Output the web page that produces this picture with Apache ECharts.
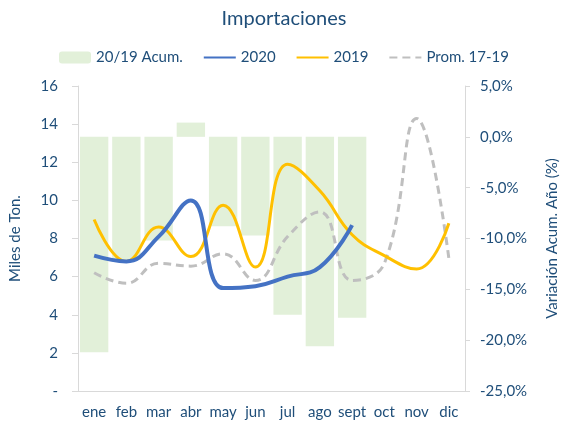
<!DOCTYPE html>
<html>
<head>
<meta charset="utf-8">
<script src="https://cdn.jsdelivr.net/npm/echarts@6/dist/echarts.min.js"></script>
<style>
  html, body { margin: 0; padding: 0; background: #fff; }
  #chart { width: 568px; height: 428px; }
</style>
</head>
<body>
<div id="chart"></div>
<script>
// datos
const meses = ['ene', 'feb', 'mar', 'abr', 'may', 'jun', 'jul', 'ago', 'sept', 'oct', 'nov', 'dic'];
const acum2019 = [-21.2, -12.1, -10.2, 1.4, -8.8, -9.7, -17.5, -20.6, -17.8, null, null, null];
const imp2020 = [7.1, 6.8, 8.1, 10.0, 5.4, 5.5, 6.0, 6.5, 8.7, null, null, null];
const imp2019 = [9.0, 6.8, 8.6, 7.05, 9.75, 6.5, 11.9, 10.5, 8.2, 7.1, 6.4, 8.8];
const prom1719 = [6.2, 5.65, 6.7, 6.55, 7.2, 5.8, 8.1, 9.4, 5.8, 6.7, 14.3, 6.95];

const txt = '#1F4E79';
const fuente = 'Lato';

const chart = echarts.init(document.getElementById('chart'));

const pct = v => v.toFixed(1).replace('.', ',') + '%';

chart.setOption({
    animation: false,
    textStyle: {fontFamily: fuente, color: txt},
    title: {
        text: 'Importaciones',
        left: 'center',
        top: 4,
        textStyle: {fontFamily: fuente, fontSize: 20, fontWeight: 'normal', color: txt}
    },
    legend: {
        top: 45,
        left: 'center',
        itemWidth: 32,
        itemHeight: 12,
        itemGap: 20,
        textStyle: {fontFamily: fuente, fontSize: 15, color: txt},
        data: ['20/19 Acum.', '2020', '2019', 'Prom. 17-19']
    },
    grid: {left: 77, right: 93, top: 86, bottom: 37},
    xAxis: {
        type: 'category',
        data: meses,
        axisLine: {lineStyle: {color: '#D9D9D9'}},
        axisTick: {show: false},
        axisLabel: {interval: 0, fontSize: 15, color: txt, margin: 14, fontFamily: fuente}
    },
    yAxis: [{
        type: 'value',
        min: 0,
        max: 16,
        interval: 2,
        name: 'Miles de Ton.',
        nameLocation: 'middle',
        nameGap: 55,
        nameTextStyle: {fontSize: 15, color: txt, fontFamily: fuente},
        axisLine: {show: true, lineStyle: {color: '#D9D9D9'}},
        axisTick: {show: true, length: 6, lineStyle: {color: '#D9D9D9'}},
        splitLine: {show: false},
        axisLabel: {
            fontSize: 15, color: txt, margin: 20, fontFamily: fuente,
            formatter: v => v === 0 ? '-' : String(v)
        }
    }, {
        type: 'value',
        min: -25,
        max: 5,
        interval: 5,
        position: 'right',
        name: 'Variación Acum. Año (%)',
        nameLocation: 'middle',
        nameGap: 80,
        nameRotate: 90,
        nameTextStyle: {fontSize: 15, color: txt, fontFamily: fuente},
        axisLine: {show: true, lineStyle: {color: '#D9D9D9'}},
        axisTick: {show: true, length: 5, lineStyle: {color: '#D9D9D9'}},
        splitLine: {show: false},
        axisLabel: {fontSize: 15, color: txt, margin: 15, fontFamily: fuente, formatter: pct}
    }],
    series: [{
        name: '20/19 Acum.',
        type: 'bar',
        yAxisIndex: 1,
        barWidth: '88%',
        itemStyle: {color: '#E2F0D9'},
        data: acum2019
    }, {
        name: '2020',
        type: 'line',
        smooth: 0.45,
        showSymbol: false,
        lineStyle: {color: '#4472C4', width: 4},
        itemStyle: {color: '#4472C4', opacity: 0},
        z: 4,
        data: imp2020
    }, {
        name: '2019',
        type: 'line',
        smooth: 0.45,
        showSymbol: false,
        lineStyle: {color: '#FFC000', width: 3},
        itemStyle: {color: '#FFC000', opacity: 0},
        z: 3,
        data: imp2019
    }, {
        name: 'Prom. 17-19',
        type: 'line',
        smooth: 0.45,
        showSymbol: false,
        lineStyle: {color: '#BFBFBF', width: 3, type: [8, 5]},
        itemStyle: {color: '#BFBFBF', opacity: 0},
        z: 2,
        data: prom1719
    }]
});
</script>
</body>
</html>
